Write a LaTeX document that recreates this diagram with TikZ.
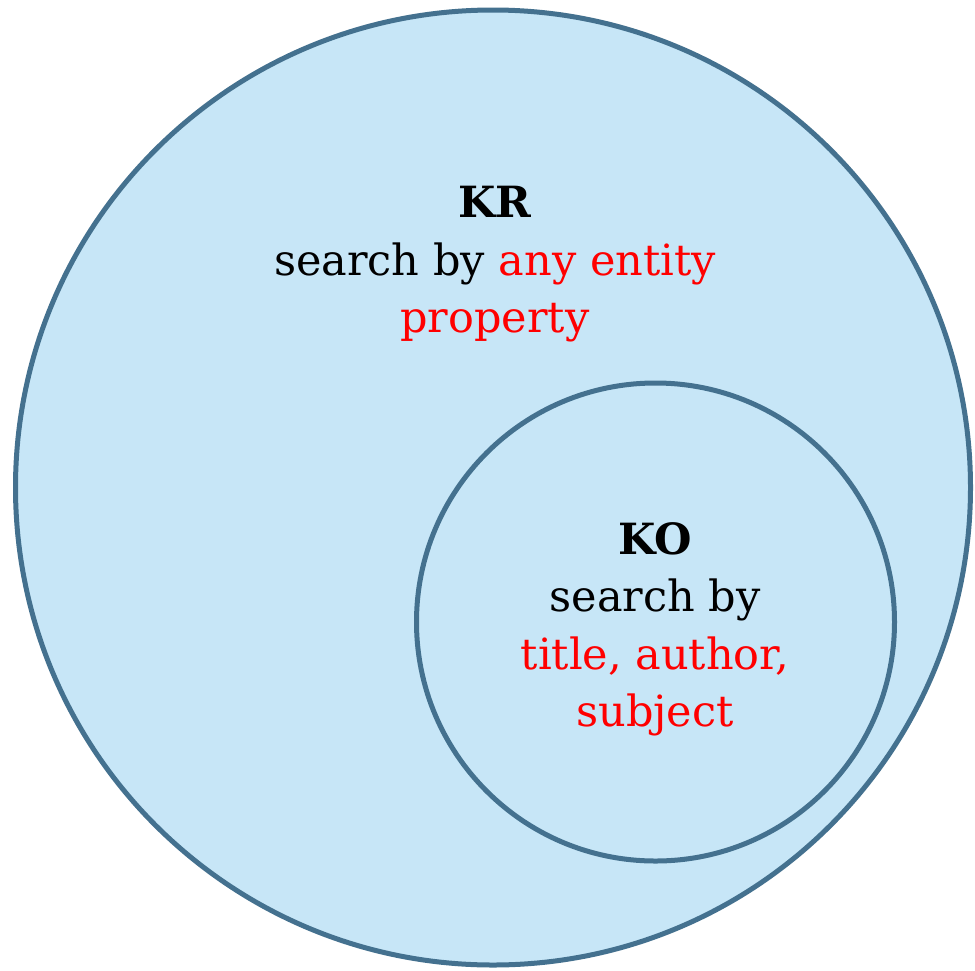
\documentclass[tikz,border=0pt]{standalone}
\usepackage{fontspec}
\setmainfont{DejaVu Serif}
\definecolor{setfill}{HTML}{C7E6F7}
\definecolor{setline}{HTML}{44718F}
\definecolor{keyred}{HTML}{FF0000}
\begin{document}
\begin{tikzpicture}[x=1pt,y=-1pt,
  setcircle/.style={circle, draw=setline, fill=setfill, line width=5pt, inner sep=0pt},
  label/.style={align=center, font=\fontsize{43}{57.5}\selectfont, inner sep=0pt}]
\useasboundingbox (0,0) rectangle (975,970);
% outer set (KR) and the nested set (KO)
\node[setcircle, minimum size=955pt] (kr) at (493,487.5) {};
\node[setcircle, minimum size=478pt] (ko) at (655.5,622) {};
\node[label, anchor=north] (krtext) at (495,186) {\textbf{KR}\\search by \textcolor{keyred}{any entity}\\\textcolor{keyred}{property}};
\node[label, anchor=north] (kotext) at (655,522) {\textbf{KO}\\search by\\\textcolor{keyred}{title, author,}\\\textcolor{keyred}{subject}};
\end{tikzpicture}
\end{document}
